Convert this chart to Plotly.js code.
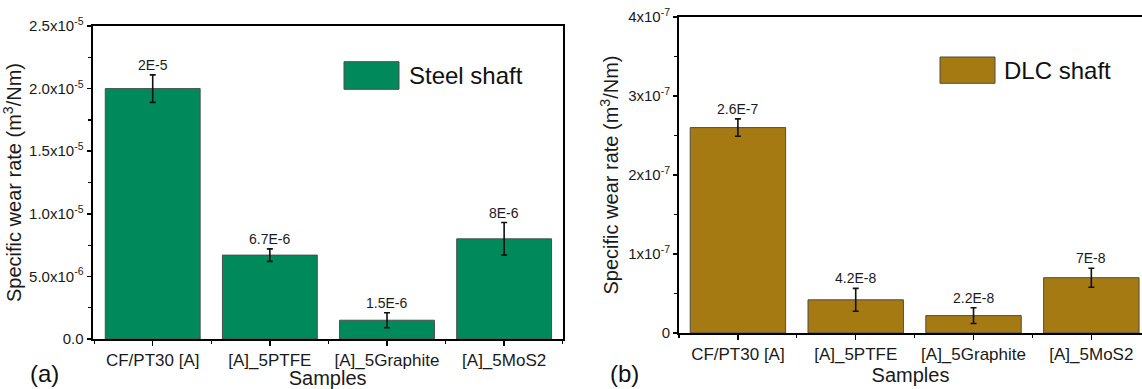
<!DOCTYPE html>
<html>
<head>
<meta charset="utf-8">
<script src="https://cdn.plot.ly/plotly-3.0.1.min.js"></script>
<style>
  html, body { margin: 0; padding: 0; background: #fff; overflow: hidden; }
  #chart { width: 1142px; height: 389px; }
</style>
</head>
<body>
<div id="chart"></div>
<script>
// ---- data ----
const categories = ['CF/PT30 [A]', '[A]_5PTFE', '[A]_5Graphite', '[A]_5MoS2'];

const steelValues = [2.0e-5, 6.7e-6, 1.5e-6, 8.0e-6];
const steelErrors = [1.1e-6, 0.5e-6, 0.6e-6, 1.3e-6];
const steelLabels = ['2E-5', '6.7E-6', '1.5E-6', '8E-6'];

const dlcValues = [2.6e-7, 4.2e-8, 2.2e-8, 7.0e-8];
const dlcErrors = [1.1e-8, 1.45e-8, 1.0e-8, 1.2e-8];
const dlcLabels = ['2.6E-7', '4.2E-8', '2.2E-8', '7E-8'];

const steelTickVals = [0, 5e-6, 1e-5, 1.5e-5, 2e-5, 2.5e-5];
const steelTickText = ['0.0', '5.0x10<sup>-6</sup>', '1.0x10<sup>-5</sup>', '1.5x10<sup>-5</sup>', '2.0x10<sup>-5</sup>', '2.5x10<sup>-5</sup>'];
const dlcTickVals = [0, 1e-7, 2e-7, 3e-7, 4e-7];
const dlcTickText = ['0', '1x10<sup>-7</sup>', '2x10<sup>-7</sup>', '3x10<sup>-7</sup>', '4x10<sup>-7</sup>'];

const legendNames = ['Steel shaft', 'DLC shaft'];
const panelLabels = ['(a)', '(b)'];
const xTitle = 'Samples';
const yTitle = 'Specific wear rate (m<sup>3</sup>/Nm)';

// ---- styles ----
const steelColor = '#008a5c';
const dlcColor = '#a57a12';
const FONT = 'Arial, "Liberation Sans", sans-serif';
const xIdx = categories.map((c, i) => i);

function barTrace(vals, errs, color, xa, ya) {
  return {
    type: 'bar', x: xIdx, y: vals, xaxis: xa, yaxis: ya, width: 0.81,
    marker: { color: color, line: { color: '#4d4d4d', width: 1 } },
    error_y: { type: 'data', array: errs, visible: true, color: '#111', thickness: 1.6, width: 3 },
    showlegend: false, hoverinfo: 'skip'
  };
}

const data = [
  barTrace(steelValues, steelErrors, steelColor, 'x', 'y'),
  barTrace(dlcValues, dlcErrors, dlcColor, 'x2', 'y2')
];

function xAxis(domain, range, anchor) {
  return {
    domain: domain, range: range, anchor: anchor,
    tickmode: 'array', tickvals: xIdx, ticktext: categories,
    ticks: 'outside', ticklen: 5, tickwidth: 1.5, tickcolor: '#000',
    minor: { tickmode: 'linear', tick0: 0.5, dtick: 1, ticks: 'outside', ticklen: 3, tickwidth: 1.2, tickcolor: '#000', showgrid: false },
    showline: true, linecolor: '#000', linewidth: 2, mirror: true,
    showgrid: false, zeroline: false,
    tickfont: { family: FONT, size: 17, color: '#1a1a1a' },
    title: { text: xTitle, font: { family: FONT, size: 20, color: '#1a1a1a' }, standoff: 2 },
    fixedrange: true
  };
}
function yAxis(domain, range, vals, text, dminor, anchor, mirror) {
  return {
    domain: domain, range: range, anchor: anchor,
    tickmode: 'array', tickvals: vals, ticktext: text,
    ticks: 'outside', ticklen: 4, tickwidth: 1.5, tickcolor: '#000',
    minor: { tickmode: 'linear', tick0: 0, dtick: dminor, ticks: 'outside', ticklen: 3, tickwidth: 1.2, tickcolor: '#000', showgrid: false },
    showline: true, linecolor: '#000', linewidth: 2, mirror: mirror,
    showgrid: false, zeroline: false,
    tickfont: { family: FONT, size: 15, color: '#1a1a1a' },
    title: { text: yTitle, font: { family: FONT, size: 20, color: '#1a1a1a' }, standoff: 4 },
    fixedrange: true
  };
}

const annotations = [];
steelValues.forEach((v, i) => annotations.push({
  xref: 'x', yref: 'y', x: i, y: v + steelErrors[i], text: steelLabels[i],
  showarrow: false, yanchor: 'bottom', yshift: 0,
  font: { family: FONT, size: 14, color: '#1a1a1a' }
}));
dlcValues.forEach((v, i) => annotations.push({
  xref: 'x2', yref: 'y2', x: i, y: v + dlcErrors[i], text: dlcLabels[i],
  showarrow: false, yanchor: 'bottom', yshift: 0,
  font: { family: FONT, size: 14, color: '#1a1a1a' }
}));
// legend texts
annotations.push({ xref: 'paper', yref: 'paper', x: 407 / 1142, y: 1 - 75.5 / 389, xanchor: 'left', yanchor: 'middle',
  text: legendNames[0], showarrow: false, font: { family: FONT, size: 24, color: '#111' } });
annotations.push({ xref: 'paper', yref: 'paper', x: 1002 / 1142, y: 1 - 70 / 389, xanchor: 'left', yanchor: 'middle',
  text: legendNames[1], showarrow: false, font: { family: FONT, size: 24, color: '#111' } });
// panel labels
annotations.push({ xref: 'paper', yref: 'paper', x: 28 / 1142, y: 1 - 373 / 389, xanchor: 'left', yanchor: 'middle',
  text: panelLabels[0], showarrow: false, font: { family: FONT, size: 24, color: '#111' } });
annotations.push({ xref: 'paper', yref: 'paper', x: 608 / 1142, y: 1 - 373 / 389, xanchor: 'left', yanchor: 'middle',
  text: panelLabels[1], showarrow: false, font: { family: FONT, size: 24, color: '#111' } });

const shapes = [
  { type: 'rect', xref: 'paper', yref: 'paper', x0: 344 / 1142, x1: 399 / 1142, y0: 1 - 89.3 / 389, y1: 1 - 61.7 / 389,
    fillcolor: steelColor, line: { color: '#4d4d4d', width: 1 } },
  { type: 'rect', xref: 'paper', yref: 'paper', x0: 940 / 1142, x1: 995 / 1142, y0: 1 - 83.3 / 389, y1: 1 - 57 / 389,
    fillcolor: dlcColor, line: { color: '#4d4d4d', width: 1 } }
];

const layout = {
  width: 1142, height: 389,
  margin: { l: 0, r: 0, t: 0, b: 0 },
  paper_bgcolor: '#fff', plot_bgcolor: '#fff',
  showlegend: false,
  xaxis: xAxis([92.5 / 1142, 562.7 / 1142], [-0.514, 3.5], 'y'),
  yaxis: yAxis([1 - 339 / 389, 1 - 26 / 389], [0, 2.5e-5], steelTickVals, steelTickText, 2.5e-6, 'x', true),
  xaxis2: xAxis([679 / 1142, 1], [-0.5, 3.43], 'y2'),
  yaxis2: yAxis([1 - 333 / 389, 1 - 17 / 389], [0, 4e-7], dlcTickVals, dlcTickText, 0.5e-7, 'x2', false),
  annotations: annotations,
  shapes: shapes
};

Plotly.newPlot('chart', data, layout, { displayModeBar: false, staticPlot: true });
</script>
</body>
</html>
